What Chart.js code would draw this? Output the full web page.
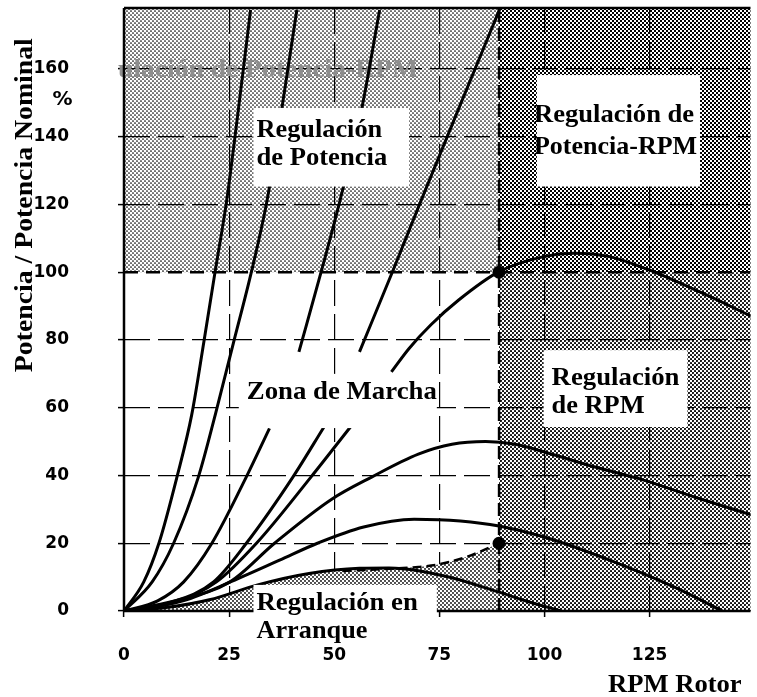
<!DOCTYPE html>
<html>
<head>
<meta charset="utf-8">
<title>Regulación de potencia y RPM</title>
<script src="https://cdn.jsdelivr.net/npm/chart.js@4.4.1/dist/chart.umd.min.js"></script>
<style>
  html, body { margin: 0; padding: 0; background: #fff; }
  canvas { display: block; }
</style>
</head>
<body>
<canvas id="chart" width="757" height="697"></canvas>
<script>
// axes
const rpmTicks = [0, 25, 50, 75, 100, 125];
const powerTicks = [0, 20, 40, 60, 80, 100, 120, 140, 160];
const rpmMax = 149;
const powerMax = 178;

// nominal point and start point
const ratedRpm = 89.2;
const ratedPower = 100;
const startPower = 20;

// curves: [rpm, % power], null = break behind a label
const curveA = [[0, 0], [4.7, 8.6], [8.3, 20], [12.6, 39.6], [16.1, 57.9], [19, 79.5], [21.7, 100.4], [24.4, 121], [27.2, 148], [30.1, 177.4]];
const curveB = [[0, 0], [6.7, 8.6], [11.8, 20], [17.7, 39.6], [21.7, 57.9], [26, 79], [30.4, 100.6], [34, 121], [37.5, 148], [41.1, 177.4]];
const curveC = [[0, 0], [8, 3], [14.2, 8.6], [20.9, 20], [29.1, 39.6], [34.6, 53.9], [38, null], [41.6, 76.5], [47, 100.6], [51.4, 121.3], [56.5, 148], [60.8, 177.4]];
const curveD = [[0, 0], [11, 2.5], [21.3, 8.6], [29.1, 20], [40.2, 39.6], [47.6, 54.4], [52, null], [56, 76.5], [64, 100.6], [70.6, 121], [79.5, 148], [89.3, 177.5]];
const windHigh = [[0, 0], [12, 2.5], [22, 8.6], [31.5, 20], [44.5, 39.6], [53.9, 54.4], [58, null], [63.6, 70.6], [67.8, 77.5], [73, 84.5], [79.6, 91.8], [89.1, 100.1], [99.8, 104.6], [107, 105.6], [115.5, 104.6], [125, 100.6], [137.6, 93.8], [149.4, 86.9]];
const windMid = [[0, 0], [12, 3], [25.2, 8.6], [35.8, 20], [49.4, 33], [59, 39.6], [70, 46.3], [78, 49.2], [86, 50], [93, 49.2], [99.8, 47], [112, 42.5], [123.4, 38.7], [136, 33.5], [149.4, 28.3]];
const windLow = [[0, 0], [14, 3], [27, 9.5], [37, 15], [46, 20], [57, 24.8], [69, 27.1], [80, 26.6], [89.2, 25.1], [99.8, 21.9], [115.5, 15], [131.3, 6.8], [142.3, 0]];
const windStart = [[0, 0], [10, 1], [20.3, 3.3], [32, 7.8], [44, 11.1], [56, 12.6], [63, 12.7], [77, 10.1], [88.8, 5.7], [96, 2.8], [104, 0]];
const startLine = [[52, 11.8], [62, 12.4], [70, 13], [75, 13.8], [82, 16.2], [89.2, 20]];

const pts = arr => arr.map(p => ({ x: p[0], y: p[1] }));
const startEdge = windStart.filter(p => p[0] < 52).concat(startLine);

// label placement in chart units
const boxes = [
    { x0: 30.8, x1: 67.8, y0: 125.3, y1: 148.5 },
    { x0: 98.2, x1: 137.0, y0: 125.3, y1: 158.2 },
    { x0: 99.8, x1: 134.0, y0: 54.3, y1: 77.0 },
    { x0: 27.3, x1: 74.4, y0: 54.0, y1: 70.0 },
    { x0: 30.8, x1: 74.4, y0: -10.0, y1: 7.7 }
];
const notes = [
    { text: 'Regulación', x0: 31.5, x1: 61.4, y: 142.0 },
    { text: 'de Potencia', x0: 31.5, x1: 62.6, y: 133.7 },
    { text: 'Regulación de', x0: 97.5, x1: 135.6, y: 146.4 },
    { text: 'Potencia-RPM', x0: 97.5, x1: 136.3, y: 137.0 },
    { text: 'Zona de Marcha', x0: 29.2, x1: 74.4, y: 64.6 },
    { text: 'Regulación', x0: 101.7, x1: 132.1, y: 68.8 },
    { text: 'de RPM', x0: 101.7, x1: 123.8, y: 60.5 },
    { text: 'Regulación en', x0: 31.5, x1: 69.9, y: 2.4 },
    { text: 'Arranque', x0: 31.5, x1: 57.9, y: -5.9 },
    { text: 'RPM Rotor', x0: 115.1, x1: 146.9, y: -21.8 }
];
const ghost = { text: 'ulación de Potencia-RPM', x0: -1.4, x1: 69.9, y: 159.7 };

const canvas = document.getElementById('chart');
const ctx = canvas.getContext('2d');

function dots(r) {
    const t = document.createElement('canvas');
    t.width = 4; t.height = 4;
    const g = t.getContext('2d');
    g.fillStyle = '#fff';
    g.fillRect(0, 0, 4, 4);
    g.fillStyle = '#000';
    g.beginPath(); g.arc(1, 1, r, 0, Math.PI * 2); g.fill();
    g.beginPath(); g.arc(3, 3, r, 0, Math.PI * 2); g.fill();
    return ctx.createPattern(t, 'repeat');
}
function checker() {
    const t = document.createElement('canvas');
    t.width = 4; t.height = 4;
    const g = t.getContext('2d');
    g.fillStyle = '#fff';
    g.fillRect(0, 0, 4, 4);
    g.fillStyle = '#000';
    g.fillRect(0, 0, 2, 2);
    g.fillRect(2, 2, 2, 2);
    return ctx.createPattern(t, 'repeat');
}
const pats = { light: dots(0.85), mid: dots(1.05), dark: checker(), start: dots(0.9) };

const serif = size => `bold ${size}px "Liberation Serif", "Times New Roman", serif`;

function fitText(c, text, x, y, w, font, rot) {
    c.font = font;
    const m = c.measureText(text).width;
    c.save();
    c.translate(x, y);
    if (rot) c.rotate(rot);
    c.scale(w / m, 1);
    c.textAlign = rot ? 'center' : 'left';
    c.textBaseline = 'middle';
    c.fillText(text, 0, 0);
    c.restore();
}

const decor = {
    id: 'decor',
    beforeDraw(chart) {
        const { ctx: c, chartArea: a, scales: { x, y } } = chart;
        const xr = x.getPixelForValue(ratedRpm);
        const yr = y.getPixelForValue(ratedPower);
        c.save();
        c.fillStyle = '#fff';
        c.fillRect(0, 0, chart.width, chart.height);
        c.fillStyle = pats.light;
        c.fillRect(a.left, a.top, xr - a.left, yr - a.top);
        c.fillStyle = pats.dark;
        c.fillRect(xr, a.top, a.right - xr, yr - a.top);
        c.fillStyle = pats.mid;
        c.fillRect(xr, yr, a.right - xr, a.bottom - yr);
        c.restore();
    },
    beforeDatasetsDraw(chart) {
        const { ctx: c, scales: { x, y } } = chart;
        c.save();
        c.fillStyle = '#8e8e8e';
        fitText(c, ghost.text, x.getPixelForValue(ghost.x0), y.getPixelForValue(ghost.y),
            x.getPixelForValue(ghost.x1) - x.getPixelForValue(ghost.x0), serif(26));
        c.restore();
    },
    afterDatasetsDraw(chart) {
        const { ctx: c, chartArea: a, scales: { x, y } } = chart;
        c.save();
        // frame
        c.strokeStyle = '#000';
        c.lineWidth = 2.5;
        c.beginPath();
        c.moveTo(a.left, a.top); c.lineTo(a.right, a.top);
        c.moveTo(a.left, a.top); c.lineTo(a.left, a.bottom);
        c.moveTo(a.left, a.bottom); c.lineTo(a.right, a.bottom);
        c.stroke();

        // white boxes behind the labels
        c.fillStyle = '#fff';
        boxes.forEach(b => {
            const l = x.getPixelForValue(b.x0), r = x.getPixelForValue(b.x1);
            const t = y.getPixelForValue(b.y1), btm = y.getPixelForValue(b.y0);
            c.fillRect(l, t, r - l, btm - t);
        });

        c.fillStyle = '#000';
        notes.forEach(n => {
            const l = x.getPixelForValue(n.x0);
            fitText(c, n.text, l, y.getPixelForValue(n.y), x.getPixelForValue(n.x1) - l, serif(26));
        });

        // y title
        fitText(c, 'Potencia / Potencia Nominal', x.getPixelForValue(-23.5), y.getPixelForValue(119.8), 334, serif(26), -Math.PI / 2);

        c.font = 'bold 20px "DejaVu Sans", sans-serif';
        c.textAlign = 'center';
        c.textBaseline = 'middle';
        c.fillText('%', x.getPixelForValue(-14.6), y.getPixelForValue(150.8));
        c.restore();
    }
};

const lineStyle = { borderColor: '#000', borderWidth: 3, fill: false, pointRadius: 0, cubicInterpolationMode: 'monotone', spanGaps: false, order: 2 };
const tickFont = { family: '"DejaVu Sans", sans-serif', weight: 'bold', size: 17 };
// no grid line under the dashed rated power line
const yGridColor = c => (c.tick && c.tick.value === ratedPower ? 'rgba(0,0,0,0)' : '#000');

new Chart(ctx, {
    type: 'line',
    data: {
        datasets: [
            { data: pts(startEdge), borderWidth: 0, backgroundColor: pats.start, fill: 'origin', pointRadius: 0, tension: 0.3, order: 10 },
            { data: pts([[0, ratedPower], [rpmMax, ratedPower]]), borderColor: '#000', borderWidth: 2.5, borderDash: [14, 8], pointRadius: 0, order: 3 },
            { data: pts([[ratedRpm, 0], [ratedRpm, powerMax]]), borderColor: '#000', borderWidth: 2.5, borderDash: [13, 6], pointRadius: 0, order: 3 },
            { data: pts(startLine), borderColor: '#000', borderWidth: 2.5, borderDash: [9, 5], pointRadius: 0, cubicInterpolationMode: 'monotone', order: 3 },
            { ...lineStyle, data: pts(curveA) },
            { ...lineStyle, data: pts(curveB) },
            { ...lineStyle, data: pts(curveC) },
            { ...lineStyle, data: pts(curveD) },
            { ...lineStyle, data: pts(windHigh) },
            { ...lineStyle, data: pts(windMid) },
            { ...lineStyle, data: pts(windLow) },
            { ...lineStyle, data: pts(windStart) },
            { data: pts([[ratedRpm, ratedPower], [ratedRpm, startPower]]), showLine: false, pointRadius: 6.5, pointBackgroundColor: '#000', pointBorderWidth: 0, order: 0 }
        ]
    },
    options: {
        responsive: false,
        animation: false,
        layout: { padding: { top: 8, right: 0, bottom: 0, left: 0 } },
        plugins: { legend: { display: false }, tooltip: { enabled: false } },
        scales: {
            x: {
                type: 'linear',
                min: 0,
                max: rpmMax,
                afterBuildTicks: s => { s.ticks = rpmTicks.map(v => ({ value: v })); },
                afterFit: s => { s.height = 86; s.paddingLeft = 0; s.paddingRight = 0; },
                grid: { color: '#000', lineWidth: 1.2, drawTicks: true, tickLength: 6, tickColor: '#000', tickWidth: 1.5 },
                border: { display: false, dash: [26, 8] },
                ticks: { color: '#000', font: tickFont, padding: 28, maxRotation: 0, autoSkip: false }
            },
            y: {
                min: 0,
                max: powerMax,
                afterBuildTicks: s => { s.ticks = powerTicks.map(v => ({ value: v })); },
                afterFit: s => { s.width = 124; s.paddingTop = 0; s.paddingBottom = 0; },
                grid: { color: yGridColor, lineWidth: 1.2, drawTicks: true, tickLength: 6, tickColor: '#000', tickWidth: 1.5 },
                border: { display: false, dash: [26, 8] },
                ticks: { color: '#000', font: tickFont, padding: 49, autoSkip: false }
            }
        }
    },
    plugins: [decor]
});
</script>
</body>
</html>
